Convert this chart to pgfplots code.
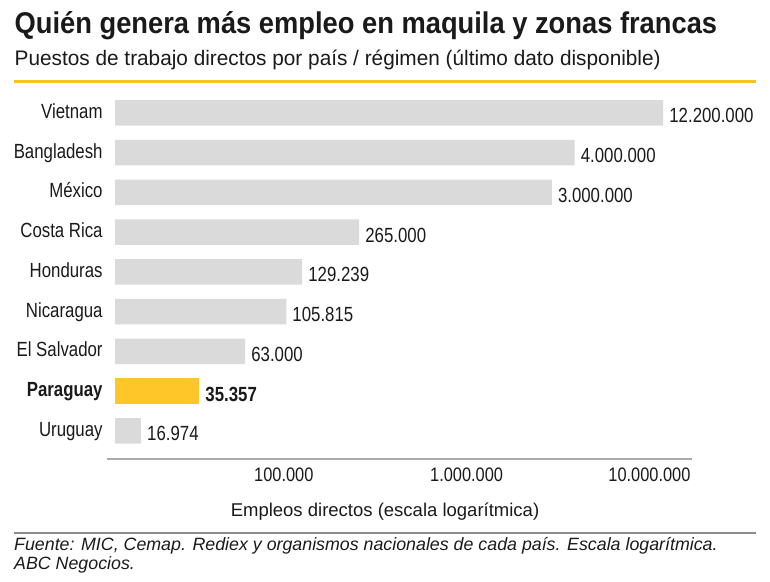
\documentclass[border=0pt]{standalone}
\usepackage{fontspec}
\setmainfont{Liberation Sans}
\newfontfamily\condfont{Liberation Sans}[FakeStretch=0.82]
\newfontfamily\tickfont{Liberation Sans}[FakeStretch=0.84]
\newfontfamily\titlefont{Liberation Sans}[FakeStretch=0.91]
\newfontfamily\subfont{Liberation Sans}[FakeStretch=0.99]
\usepackage{pgfplots}
\usepackage{pgfplotstable}
\pgfplotsset{compat=1.18}

\definecolor{bargray}{HTML}{DADADA}
\definecolor{baryellow}{HTML}{FFC629}
\definecolor{rulegold}{HTML}{F5C518}
\definecolor{txt}{HTML}{1A1A1A}
\definecolor{axisgray}{HTML}{AAAAAA}
\definecolor{rulegray}{HTML}{8C8C8C}

% position (0 = bottom row), jobs, printed label
\pgfplotstableread{
pos value label
0 16974    16.974
2 63000    63.000
3 105815   105.815
4 129239   129.239
5 265000   265.000
6 3000000  3.000.000
7 4000000  4.000.000
8 12200000 12.200.000
}\others
\pgfplotstableread{
pos value label
1 35357 35.357
}\paraguay

\begin{document}
\begin{tikzpicture}[x=1pt,y=1pt]
\useasboundingbox (0,0) rectangle (770,-581);

% title block
\node[anchor=base west, inner sep=0pt, text=txt] at (14.5,-33)
  {\titlefont\bfseries\fontsize{30}{36}\selectfont Quién genera más empleo en maquila y zonas francas};
\node[anchor=base west, inner sep=0pt, text=txt] at (14.5,-65)
  {\subfont\fontsize{21}{25}\selectfont Puestos de trabajo directos por país / régimen (último dato disponible)};
\draw[rulegold, line width=3pt] (14,-81) -- (756,-81);

\begin{axis}[
  at={(115pt,-459pt)}, anchor=south west,
  scale only axis, width=577pt, height=365.7pt,
  xmode=log, log origin x=infty,
  xmin=12236, xmax=17540000,
  ymin=-0.71, ymax=8.49,
  xbar, bar width=25.5pt, bar shift=0pt,
  clip=false,
  axis line style={draw=none},
  tick style={draw=none},
  xminorticks=false,
  xtick={100000,1000000,10000000},
  xticklabels={100.000,1.000.000,10.000.000},
  ytick={0,...,8},
  yticklabels={Uruguay,\bfseries Paraguay,El Salvador,Nicaragua,Honduras,Costa Rica,México,Bangladesh,Vietnam},
  xticklabel style={font=\tickfont\fontsize{19.5}{23}\selectfont, text=txt, anchor=north, inner sep=0pt, yshift=-9pt, xshift=2pt},
  yticklabel style={font=\condfont\fontsize{20.5}{24}\selectfont, text=txt, anchor=base east, inner sep=0pt, xshift=-8pt, yshift=-5.6pt},
  point meta=explicit symbolic,
  nodes near coords,
  nodes near coords style={anchor=west, inner sep=0pt, xshift=6pt, yshift=-3pt,
    font=\condfont\fontsize{20.5}{24}\selectfont, text=txt},
]
\addplot[fill=bargray, draw=none] table[x=value, y=pos, meta=label] {\others};
\addplot[fill=baryellow, draw=none,
  nodes near coords style={font=\condfont\bfseries\fontsize{20.5}{24}\selectfont}]
  table[x=value, y=pos, meta=label] {\paraguay};
\draw[axisgray, line width=1.5pt] ([xshift=-8pt]rel axis cs:0,0) -- (rel axis cs:1,0);
\end{axis}

% axis title and source note
\node[anchor=base, inner sep=0pt, text=txt] at (385,-516)
  {\fontsize{18.5}{22}\selectfont Empleos directos (escala logarítmica)};
\draw[rulegray, line width=1.2pt] (14,-533) -- (756,-533);
\node[anchor=base west, inner sep=0pt, text=txt] at (14,-550)
  {\itshape\fontsize{17.8}{19}\selectfont Fuente: MIC, Cemap. Rediex y organismos nacionales de cada país. Escala logarítmica.};
\node[anchor=base west, inner sep=0pt, text=txt] at (14,-569)
  {\itshape\fontsize{17.8}{19}\selectfont ABC Negocios.};
\end{tikzpicture}
\end{document}
